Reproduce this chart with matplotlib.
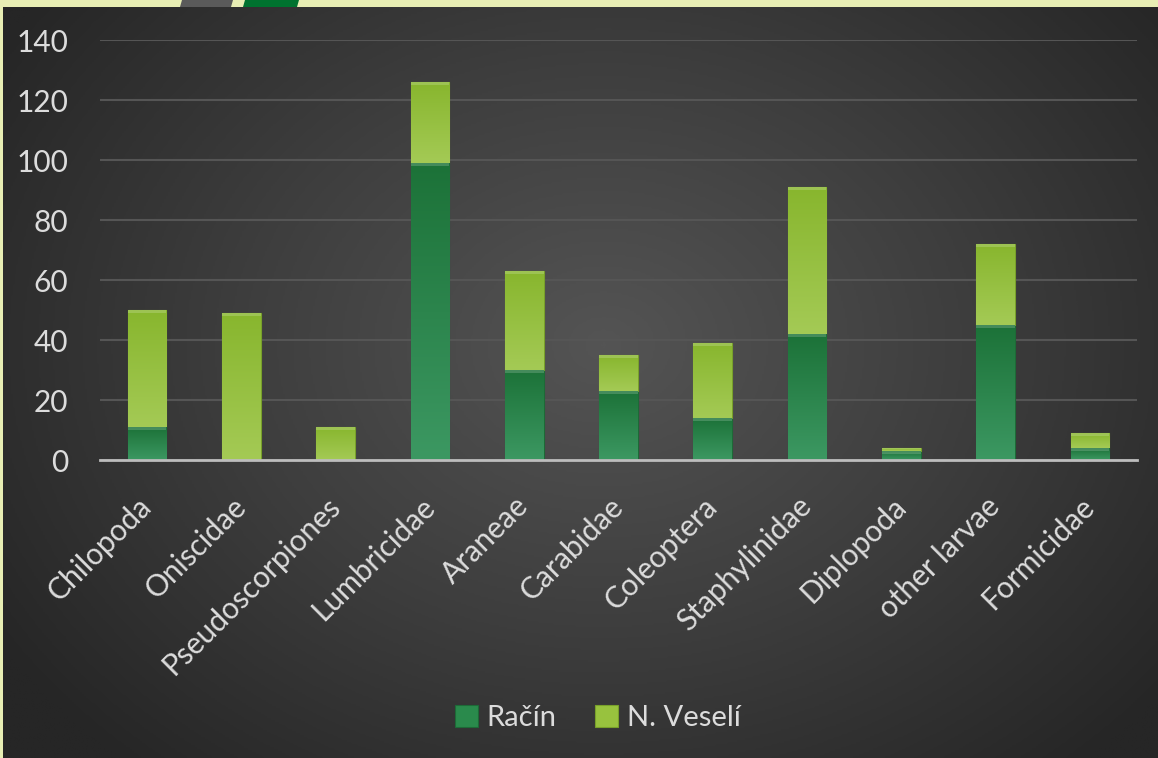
import numpy as np
import matplotlib
matplotlib.use("Agg")
import matplotlib.pyplot as plt
from matplotlib.patches import Polygon, Rectangle
from matplotlib.colors import LinearSegmentedColormap

# ---- data ----
categories = ["Chilopoda", "Oniscidae", "Pseudoscorpiones", "Lumbricidae", "Araneae",
              "Carabidae", "Coleoptera", "Staphylinidae", "Diplopoda", "other larvae",
              "Formicidae"]
racin = [11, 0, 0, 99, 30, 23, 14, 42, 3, 45, 4]
veseli = [39, 49, 11, 27, 33, 12, 25, 49, 1, 27, 5]
series_names = ["Račín", "N. Veselí"]
yticks = [0, 20, 40, 60, 80, 100, 120, 140]

plt.rcParams['font.family'] = ['Lato', 'DejaVu Sans']

W, H = 1158, 758
fig = plt.figure(figsize=(W / 100, H / 100), dpi=100)
fig.patch.set_facecolor('#E8EEB4')

# dark panel with radial gradient
bg = fig.add_axes([3 / W, 0, 1 - 3 / W, 1 - 7 / H])
bg.set_axis_off()
nx, ny = 600, 400
xx, yy = np.meshgrid(np.linspace(0, 1, nx), np.linspace(0, 1, ny))
cx, cy = 0.52, 0.45
r = np.sqrt(((xx - cx) / 0.62) ** 2 + ((yy - cy) / 0.75) ** 2)
r = np.clip(r, 0, 1)
cmap_bg = LinearSegmentedColormap.from_list('bg', ['#545454', '#3e3e3e', '#262626'])
bg.imshow(r, cmap=cmap_bg, extent=[0, 1, 0, 1], aspect='auto', origin='upper',
          interpolation='bilinear')
bg.set_xlim(0, 1)
bg.set_ylim(0, 1)

# decorative tabs on top strip
def px(x, y):
    return (x / W, 1 - y / H)
fig.patches.append(Polygon([px(182, 0), px(233, 0), px(231, 7), px(180, 7)],
                           closed=True, transform=fig.transFigure,
                           facecolor='#5a5a5a', edgecolor='none', zorder=5))
fig.patches.append(Polygon([px(245, 0), px(299, 0), px(297, 7), px(243, 7)],
                           closed=True, transform=fig.transFigure,
                           facecolor='#00722f', edgecolor='none', zorder=5))

# main axes
ax = fig.add_axes([100 / W, (H - 460) / H, 1037 / W, 420 / H])
ax.patch.set_alpha(0)
x = np.arange(len(categories))
bw = 0.41

c_r = '#2a8a4c'
c_v = '#98c23e'
b1 = ax.bar(x, racin, bw, color=c_r, edgecolor='#1d6a37', linewidth=0.8,
            label=series_names[0], zorder=3)
b2 = ax.bar(x, veseli, bw, bottom=racin, color=c_v, edgecolor='#78a02a',
            linewidth=0.8, label=series_names[1], zorder=3)

# vertical gradient overlay on bars
grad = np.linspace(0, 1, 100).reshape(-1, 1)
cm_r = LinearSegmentedColormap.from_list('r', ['#3c9862', '#1c7238'])
cm_v = LinearSegmentedColormap.from_list('v', ['#a4ca55', '#88b62e'])
for bars, cm in ((b1, cm_r), (b2, cm_v)):
    for p in bars:
        h = p.get_height()
        if h <= 0:
            continue
        x0, y0 = p.get_x(), p.get_y()
        im = ax.imshow(grad, cmap=cm, extent=[x0, x0 + p.get_width(), y0, y0 + h],
                       aspect='auto', origin='lower', zorder=3.5, interpolation='bilinear')
        im.set_clip_path(p)
        ax.add_patch(Rectangle((x0, y0 + h - min(0.9, h * 0.3)), p.get_width(),
                               min(0.9, h * 0.3), facecolor='white', alpha=0.18,
                               edgecolor='none', zorder=3.6))

ax.set_xlim(-0.5, len(categories) - 0.5)
ax.set_ylim(0, 140)
ax.set_yticks(yticks)
ax.set_yticklabels([str(v) for v in yticks])
ax.grid(axis='y', color='#555555', linewidth=1.5, zorder=0)
ax.set_axisbelow(True)
for s in ['top', 'right', 'left']:
    ax.spines[s].set_visible(False)
ax.spines['bottom'].set_color('#bdbdbd')
ax.spines['bottom'].set_linewidth(2)
ax.spines['bottom'].set_zorder(4)
ax.tick_params(axis='y', length=0, pad=23, labelsize=21.5, labelcolor='#dcdcdc')
ax.tick_params(axis='x', length=0, pad=30, labelsize=21.5, labelcolor='#dcdcdc')
ax.set_xticks(x)
ax.set_xticklabels(categories, rotation=45, ha='right', va='center',
                   rotation_mode='anchor')

leg = fig.legend(handles=[b1, b2], labels=series_names, loc='center',
                 bbox_to_anchor=(0.516, (H - 718) / H), ncol=2, frameon=False,
                 fontsize=21, handlelength=0.8, handleheight=0.8,
                 handletextpad=0.3, columnspacing=1.3)
for t in leg.get_texts():
    t.set_color('#dcdcdc')

fig.savefig('out.png', dpi=100, facecolor=fig.get_facecolor())
